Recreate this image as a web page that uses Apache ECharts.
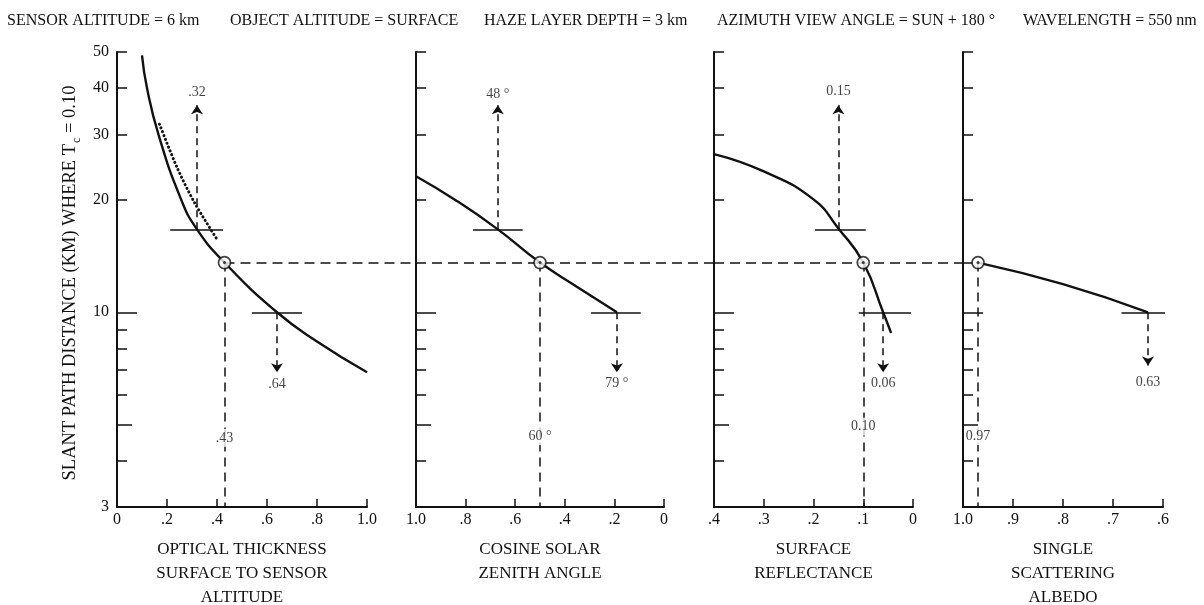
<!DOCTYPE html>
<html><head><meta charset="utf-8">
<script src="https://cdn.jsdelivr.net/npm/echarts@6/dist/echarts.min.js"></script>
<style>html,body{margin:0;padding:0;background:#fff}#c{width:1204px;height:605px}</style>
</head><body><div id="c"></div>
<script>
// ---------- DATA ----------
const headerTexts = ['SENSOR ALTITUDE = 6 km', 'OBJECT ALTITUDE = SURFACE', 'HAZE LAYER DEPTH = 3 km', 'AZIMUTH VIEW ANGLE = SUN + 180 °', 'WAVELENGTH = 550 nm'];
const yLabelValues = [3, 10, 20, 30, 40, 50];
const yTicksShort = [4, 6, 7, 8, 9, 20, 30, 40, 50];
const yTicksMid = [5];
const yTicksLong = [10];
const xTitles = ['OPTICAL THICKNESS\nSURFACE TO SENSOR\nALTITUDE', 'COSINE SOLAR\nZENITH ANGLE', 'SURFACE\nREFLECTANCE', 'SINGLE\nSCATTERING\nALBEDO'];
const xMins = [0, 0, 0, 0.6];
const xMaxs = [1, 1, 0.4, 1];
const xIntervals = [0.2, 0.2, 0.1, 0.1];
const xInverse = [false, true, true, true];

const slantDistance = 13.6; // common solution point (km)

// curves [x, slant distance km]
const opticalCurve = [[0.10, 49], [0.12, 40], [0.166, 30], [0.255, 20.2], [0.32, 16.7], [0.43, 13.6], [0.64, 10], [0.8, 8.35], [1.0, 6.9]];
const opticalDotted = [[0.17, 32], [0.24, 24.5], [0.31, 19.7], [0.40, 15.7]];
const cosineCurve = [[1.0, 23.2], [0.84, 20], [0.67, 16.7], [0.5, 13.6], [0.35, 11.7], [0.19, 10]];
const reflectCurve = [[0.4, 26.6], [0.3, 23.9], [0.2, 20.1], [0.15, 16.8], [0.1, 13.6], [0.06, 10], [0.044, 8.8]];
const albedoCurve = [[0.97, 13.6], [0.8, 11.9], [0.63, 10]];

// solution x per panel
const solutionX = [0.43, 0.5, 0.10, 0.97];

// short horizontal bars [x1, x2, y]
const barsP1 = [[0.213, 0.424, 16.7], [0.54, 0.74, 10]];
const barsP2 = [[0.77, 0.57, 16.7], [0.294, 0.094, 10]];
const barsP3 = [[0.197, 0.095, 16.7], [0.109, 0.004, 10]];
const barsP4 = [[0.683, 0.583, 10]];

// dashed arrows [x, yFrom, yTo]
const arrowsP1 = [[0.32, 16.7, 36], [0.64, 10, 6.9]];
const arrowsP2 = [[0.67, 16.7, 36], [0.19, 10, 6.9]];
const arrowsP3 = [[0.15, 16.7, 36], [0.06, 10, 6.9]];
const arrowsP4 = [[0.63, 10, 7.2]];

// annotations [text, x, y]
const notesP1 = [['.32', 0.32, 39], ['.64', 0.64, 6.4], ['.43', 0.43, 4.6]];
const notesP2 = [['48 °', 0.67, 38.5], ['79 °', 0.19, 6.45], ['60 °', 0.5, 4.65]];
const notesP3 = [['0.15', 0.15, 39.3], ['0.06', 0.06, 6.45], ['0.10', 0.10, 4.93]];
const notesP4 = [['0.63', 0.63, 6.5], ['0.97', 0.97, 4.65]];

// horizontal dashed connector extents per panel [xFrom, xTo]
const connector = [[0.43, 1.2], [1.0, -0.2], [0.4, -0.1], [1.0, 0.97]];

// ---------- LAYOUT ----------
const FONT = '"Liberation Serif", "Times New Roman", serif';
const INK = '#111';
const grids = [
  { left: 117, top: 52, width: 250, height: 455 },
  { left: 416, top: 52, width: 248, height: 455 },
  { left: 714, top: 52, width: 199, height: 455 },
  { left: 963, top: 52, width: 200, height: 455 }
];
const headerX = [7, 230, 484, 717, 1023];

function fmtX(v) {
  if (Math.abs(v) < 1e-9) return '0';
  if (Math.abs(v - 1) < 1e-9) return '1.0';
  return String(+v.toFixed(1)).replace(/^0/, '');
}

const xAxes = [], yAxes = [], series = [];
const curves = [opticalCurve, cosineCurve, reflectCurve, albedoCurve];
const bars = [barsP1, barsP2, barsP3, barsP4];
const arrows = [arrowsP1, arrowsP2, arrowsP3, arrowsP4];
const notes = [notesP1, notesP2, notesP3, notesP4];

for (let i = 0; i < 4; i++) {
  xAxes.push({
    gridIndex: i, type: 'value', min: xMins[i], max: xMaxs[i], interval: xIntervals[i], inverse: xInverse[i],
    axisLine: { show: true, onZero: false, lineStyle: { color: INK, width: 2 } },
    axisTick: { show: true, inside: true, length: 8, lineStyle: { color: INK, width: 1.5 } },
    axisLabel: { color: INK, fontFamily: FONT, fontSize: 16, margin: 5, formatter: fmtX, showMinLabel: true, showMaxLabel: true },
    splitLine: { show: false },
    name: xTitles[i], nameLocation: 'middle', nameGap: 31,
    nameTextStyle: { color: INK, fontFamily: FONT, fontSize: 17, lineHeight: 24 }
  });
  const base = { gridIndex: i, type: 'log', logBase: 10, min: 3, max: 50, position: 'left', splitLine: { show: false } };
  yAxes.push(Object.assign({}, base, {
    axisLine: { show: true, onZero: false, lineStyle: { color: INK, width: 2 } },
    axisTick: { show: true, inside: true, length: 10, customValues: yTicksShort, lineStyle: { color: INK, width: 1.5 } },
    axisLabel: { show: i === 0, customValues: yLabelValues, color: INK, fontFamily: FONT, fontSize: 16, margin: 8, formatter: v => String(Math.round(v)) }
  }));
  yAxes.push(Object.assign({}, base, {
    axisLine: { show: false, onZero: false },
    axisTick: { show: true, inside: true, length: 15, customValues: yTicksMid, lineStyle: { color: INK, width: 1.5 } },
    axisLabel: { show: false }
  }));
  yAxes.push(Object.assign({}, base, {
    axisLine: { show: false, onZero: false },
    axisTick: { show: true, inside: true, length: 20, customValues: yTicksLong, lineStyle: { color: INK, width: 1.5 } },
    axisLabel: { show: false }
  }));

  const ax = { xAxisIndex: i, yAxisIndex: 3 * i };
  // curve
  series.push(Object.assign({
    type: 'line', data: curves[i], smooth: 0.5, showSymbol: false, symbol: 'none',
    lineStyle: { color: INK, width: 2.4 }, z: 5, silent: true
  }, ax));
  // short bars
  series.push(Object.assign({
    type: 'lines', coordinateSystem: 'cartesian2d', polyline: false,
    data: bars[i].map(b => ({ coords: [[b[0], b[2]], [b[1], b[2]]] })),
    lineStyle: { color: INK, width: 1.5, opacity: 1 }, symbol: 'none', z: 4, silent: true
  }, ax));
  // dashed arrows
  series.push(Object.assign({
    type: 'lines', coordinateSystem: 'cartesian2d', polyline: false,
    data: arrows[i].map(a => ({ coords: [[a[0], a[1]], [a[0], a[2]]] })),
    lineStyle: { color: INK, width: 1.5, type: [7, 5], opacity: 1 }, symbol: ['none', 'arrow'], symbolSize: [6, 9], z: 4, silent: true
  }, ax));
  // vertical drop from solution point
  series.push(Object.assign({
    type: 'lines', coordinateSystem: 'cartesian2d', polyline: false,
    data: [{ coords: [[solutionX[i], slantDistance], [solutionX[i], 3]] }],
    lineStyle: { color: INK, width: 1.5, type: [9, 6], opacity: 1 }, symbol: 'none', z: 3, silent: true
  }, ax));
  // horizontal connector
  series.push(Object.assign({
    type: 'lines', coordinateSystem: 'cartesian2d', polyline: false, clip: false,
    data: [{ coords: [[connector[i][0], slantDistance], [connector[i][1], slantDistance]] }],
    lineStyle: { color: INK, width: 1.5, type: [10, 6], opacity: 1 }, symbol: 'none', z: 3, silent: true
  }, ax));
  // annotations
  series.push(Object.assign({
    type: 'scatter', symbolSize: 1, itemStyle: { color: 'rgba(0,0,0,0)' }, z: 6, silent: true,
    data: notes[i].map(n => ({ value: [n[1], n[2]], name: n[0] })),
    label: { show: true, position: 'inside', formatter: p => p.name, color: INK, fontFamily: FONT, fontSize: 14, backgroundColor: '#fff', padding: [2, 1] }
  }, ax));
  // solution circle
  series.push(Object.assign({
    type: 'scatter', symbol: 'circle', symbolSize: 12, z: 8, silent: true,
    itemStyle: { color: '#fff', borderColor: INK, borderWidth: 1.7 },
    data: [[solutionX[i], slantDistance]]
  }, ax));
  series.push(Object.assign({
    type: 'scatter', symbol: 'circle', symbolSize: 3, z: 9, silent: true,
    itemStyle: { color: INK },
    data: [[solutionX[i], slantDistance]]
  }, ax));
}
// dotted reference curve in panel 1
series.push({
  type: 'line', xAxisIndex: 0, yAxisIndex: 0, data: opticalDotted, smooth: 0.3, showSymbol: false, symbol: 'none',
  lineStyle: { color: INK, width: 3, type: [0.1, 4], cap: 'round' }, z: 5, silent: true
});

const graphics = headerTexts.map((t, k) => ({
  type: 'text', left: headerX[k], top: 13,
  style: { text: t, fill: INK, font: '16px ' + FONT }
}));
graphics.push({
  type: 'text', x: 72, y: 283, rotation: Math.PI / 2,
  style: {
    text: '{a|SLANT PATH DISTANCE (KM) WHERE T}{s|c}{a| = 0.10}',
    align: 'center', verticalAlign: 'middle', fill: INK,
    rich: {
      a: { fontFamily: FONT, fontSize: 18.5, lineHeight: 22, verticalAlign: 'top', fill: INK },
      s: { fontFamily: FONT, fontSize: 12, lineHeight: 12, padding: [10, 0, 0, 1], verticalAlign: 'top', fill: INK }
    }
  }
});

const option = {
  animation: false,
  backgroundColor: '#fff',
  grid: grids.map(g => Object.assign({ containLabel: false, outerBoundsMode: 'none' }, g)),
  xAxis: xAxes,
  yAxis: yAxes,
  series: series,
  graphic: graphics
};
const chart = echarts.init(document.getElementById('c'));
chart.setOption(option);
</script>
</body></html>
